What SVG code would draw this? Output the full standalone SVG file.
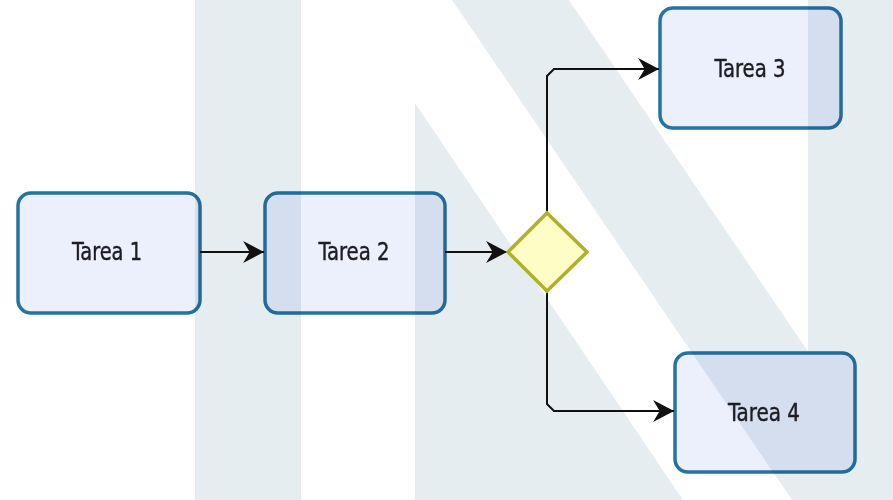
<svg xmlns="http://www.w3.org/2000/svg" width="893" height="500" viewBox="0 0 893 500">
<defs>
<style>
.wm{fill:#e6edf1;}
.task rect{fill:#eceffc;stroke:#2672a3;stroke-width:3.5;mix-blend-mode:multiply;}
.task text{font-family:"DejaVu Sans Condensed","DejaVu Sans",sans-serif;font-size:25px;fill:#1c1c22;stroke:#1c1c22;stroke-width:0.4;text-anchor:middle;}
.conn{fill:none;stroke:#111;stroke-width:2;}
.gw{fill:#fdfdc6;stroke:#b0b02a;stroke-width:3.5;}
</style>
<marker id="arr" markerUnits="userSpaceOnUse" markerWidth="22" markerHeight="22" viewBox="0 0 20 20" refX="19" refY="10" orient="auto">
<path d="M0,0 L19,10 L0,20 L6,10 Z" fill="#111"/>
</marker>
</defs>
<rect width="893" height="500" fill="#ffffff"/>
<g id="watermark">
<rect class="wm" x="195" y="0" width="106" height="500"/>
<polygon class="wm" points="415,103 683,500 415,500"/>
<polygon class="wm" points="452,0 569,0 909,500 792,500"/>
<rect class="wm" x="808" y="0" width="85" height="500"/>
</g>
<g id="connectors">
<path class="conn" d="M200,252 H264" marker-end="url(#arr)"/>
<path class="conn" d="M445,252 H507" marker-end="url(#arr)"/>
<path class="conn" d="M547,213 V76 L554,69 H659" marker-end="url(#arr)"/>
<path class="conn" d="M547,291 V404 L554,411 H674" marker-end="url(#arr)"/>
</g>
<g id="tarea1" class="task">
<rect x="18" y="193" width="182" height="120" rx="13"/>
<text x="107" y="260" textLength="70" lengthAdjust="spacingAndGlyphs">Tarea 1</text>
</g>
<g id="tarea2" class="task">
<rect x="265" y="193" width="180" height="120" rx="13"/>
<text x="354" y="260" textLength="71" lengthAdjust="spacingAndGlyphs">Tarea 2</text>
</g>
<g id="gateway">
<polygon class="gw" points="508,252 547,213 587,252 547,291"/>
</g>
<g id="tarea3" class="task">
<rect x="660" y="8" width="181" height="120" rx="13"/>
<text x="750" y="77" textLength="71" lengthAdjust="spacingAndGlyphs">Tarea 3</text>
</g>
<g id="tarea4" class="task">
<rect x="675" y="353" width="180" height="119" rx="13"/>
<text x="764" y="421" textLength="72" lengthAdjust="spacingAndGlyphs">Tarea 4</text>
</g>
</svg>
